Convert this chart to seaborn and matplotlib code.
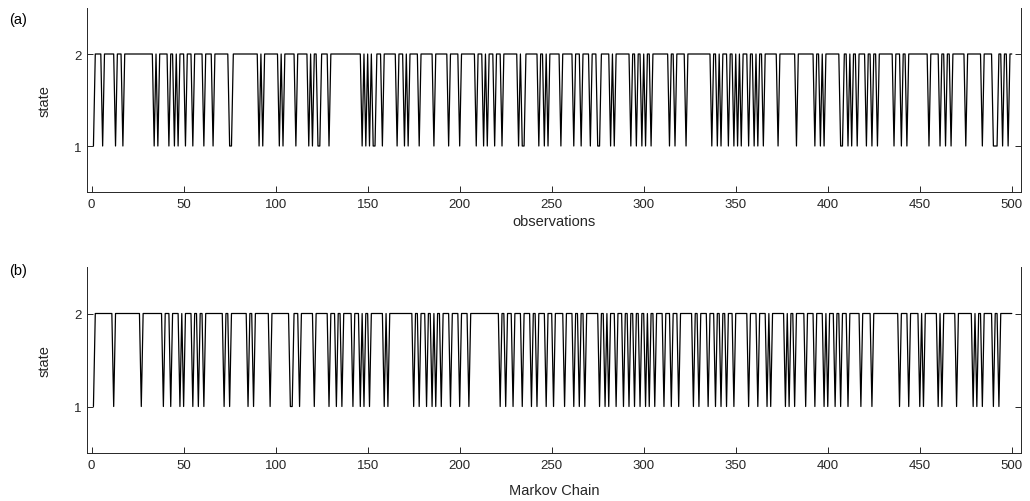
import numpy as np
import pandas as pd
import matplotlib
matplotlib.use("Agg")
import matplotlib.pyplot as plt
import seaborn as sns

N_OBS = 500
# observations where the state is 1 (all other observations are state 2)
obs_state1 = [1, 6, 13, 17, 34, 36, 42, 45, 47, 51, 55, 61, 66, 75, 76,
              91, 93, 102, 104, 111, 118, 120, 123, 124, 129, 147, 149, 151, 153, 154,
              158, 166, 170, 172, 178, 186, 194, 200, 209, 213, 215, 219, 223,
              232, 234, 235, 243, 246, 248, 255, 262, 266, 271, 275, 276, 282, 284,
              293, 296, 299, 301, 304, 314, 317, 323, 337, 340, 342, 346, 349, 351,
              353, 357, 360, 362, 365, 373, 383, 393, 396, 398, 407, 408, 411, 413,
              416, 421, 424, 427, 436, 440, 443, 455, 461, 464, 467, 475, 484,
              490, 491, 492, 495, 498]
# Markov chain states equal to 1
chain_state1 = [1, 12, 27, 39, 43, 48, 50, 55, 58, 61, 72, 75, 85, 88, 97, 108,
                109, 113, 121, 129, 133, 136, 142, 146, 148, 151, 159, 161, 175, 178,
                182, 185, 187, 190, 195, 200, 205, 222, 225, 229, 234, 239, 242, 247,
                251, 257, 262, 265, 268, 276, 279, 281, 285, 289, 292, 295, 298, 301,
                303, 306, 311, 315, 319, 327, 330, 335, 339, 342, 345, 349, 357, 362,
                367, 369, 377, 379, 382, 388, 393, 398, 400, 404, 407, 411, 418, 424,
                439, 444, 450, 452, 460, 462, 470, 479, 481, 484, 490, 493]

xticks = [0, 50, 100, 150, 200, 250, 300, 350, 400, 450, 500]
yticks = [1, 2]

def make_series(ones):
    idx = np.arange(1, N_OBS + 1)
    st = np.where(np.isin(idx, ones), 1, 2)
    return pd.DataFrame({"t": idx, "state": st})

df_a = make_series(obs_state1)
df_b = make_series(chain_state1)

sns.set_theme(style="ticks")
plt.rcParams["font.family"] = ["Liberation Sans", "DejaVu Sans"]

fig = plt.figure(figsize=(10.30, 5.02), dpi=100)
W, H = 1030, 502
def add_ax(l, t, r, b):
    return fig.add_axes([l / W, 1 - b / H, (r - l) / W, (b - t) / H])

ax_a = add_ax(87, 9, 1021, 193)
ax_b = add_ax(87, 268, 1021, 454)

for ax, df, xl, lab, lpad, laby in [(ax_a, df_a, "observations", "(a)", 3, 0.94),
                                    (ax_b, df_b, "Markov Chain", "(b)", 9, 0.985)]:
    sns.lineplot(data=df, x="t", y="state", ax=ax, color="black", linewidth=0.9)
    ax.set_xlim(-2.5, 505)
    ax.set_ylim(0.5, 2.5)
    ax.set_xticks(xticks)
    ax.set_yticks(yticks)
    ax.tick_params(labelsize=9.5, colors="#262626", direction="in", length=4,
                   width=0.7, top=False, right=True, pad=4)
    ax.set_xlabel(xl, fontsize=10.5, color="#262626", labelpad=lpad)
    ax.set_ylabel("state", fontsize=10.5, color="#262626", labelpad=16)
    for s in ax.spines.values():
        s.set_color("#262626")
        s.set_linewidth(0.7)
    ax.spines["top"].set_visible(False)
    ax.text(-0.083, laby, lab, transform=ax.transAxes, fontsize=10.5,
            color="black", ha="left", va="center")

fig.savefig("out.png", dpi=100)
